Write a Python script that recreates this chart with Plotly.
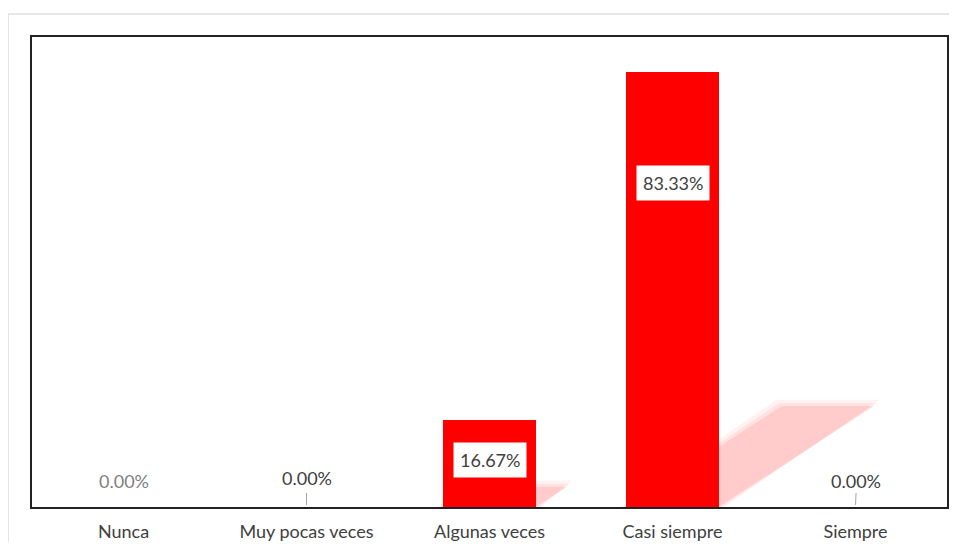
import plotly.graph_objects as go

categories = ["Nunca", "Muy pocas veces", "Algunas veces", "Casi siempre", "Siempre"]
values = [0.0, 0.0, 16.67, 83.33, 0.0]
value_labels = ["0.00%", "0.00%", "16.67%", "83.33%", "0.00%"]

# style / placement (pixels relative to the axis line)
label_shift_px = [26, 29, 47, 324, 26]
label_leader = [False, True, False, False, True]
label_colors = ["#7f7f7f", "#404040", "#404040", "#404040", "#404040"]

BAR_W = 0.505
Y_MAX = 90
PLOT_H = 471
ML, MT = 24, 29
FIG_W, FIG_H = 941, 534
PLOT_W = FIG_W - ML
FONT = "Lato"

fig = go.Figure()

# cast shadows (sheared copy of each bar, drawn below the bars), softened
shapes = []
for i, v in enumerate(values):
    if v <= 0:
        continue
    dx = 0.0102 * v
    h = 0.232 * v
    for grow, alpha in [(0.03, 0.05), (0.015, 0.06), (0.0, 0.10)]:
        gy = grow * 40
        x0, x1 = i - BAR_W / 2 - grow, i + BAR_W / 2 + grow
        path = (f"M {x0},0 L {x0+dx},{h+gy} L {x1+dx},{h+gy} L {x1},0 Z")
        shapes.append(dict(type="path", path=path, xref="x", yref="y", layer="below",
                           fillcolor=f"rgba(255,0,0,{alpha})", line=dict(width=0)))

fig.add_trace(go.Bar(x=list(range(len(categories))), y=values, width=BAR_W,
                     marker=dict(color="#ff0000", line=dict(width=0)),
                     hoverinfo="skip"))

annotations = []
for i, (v, t) in enumerate(zip(values, value_labels)):
    inside = v > 0
    ypix = label_shift_px[i]
    annotations.append(dict(
        x=i, y=0, xref="x", yref="y", text=t, showarrow=False,
        yshift=ypix, font=dict(family=FONT, size=18, color=label_colors[i]),
        bgcolor="white" if inside else "rgba(0,0,0,0)",
        borderpad=6 if inside else 0,
    ))
    if label_leader[i]:
        shapes.append(dict(type="line", xref="x", yref="y",
                           x0=i, x1=i + (0.003 if i == 4 else 0),
                           y0=0.4, y1=12 / PLOT_H * Y_MAX + 0.4,
                           line=dict(color="#a6a6a6", width=1)))

# outer light border of the chart area
shapes.append(dict(type="rect", xref="paper", yref="paper",
                   x0=(0 - ML) / PLOT_W, x1=1.3, y0=-0.3, y1=(PLOT_H + MT - 6) / PLOT_H,
                   line=dict(color="#e0e0e0", width=1.5), layer="below"))

fig.update_layout(
    width=FIG_W, height=FIG_H,
    margin=dict(l=ML, r=0, t=MT, b=FIG_H - MT - PLOT_H, pad=0),
    paper_bgcolor="white", plot_bgcolor="white",
    showlegend=False,
    shapes=shapes, annotations=annotations,
    bargap=0,
    font=dict(family=FONT, size=18, color="#404040"),
)
fig.update_xaxes(range=[-0.5, len(categories) - 0.5], tickmode="array",
                 tickvals=list(range(len(categories))), ticktext=categories,
                 showline=True, linecolor="#222222", linewidth=2, mirror=True,
                 ticks="", showgrid=False, zeroline=False, ticklabelstandoff=7,
                 tickfont=dict(family=FONT, size=18, color="#404040"))
fig.update_yaxes(range=[0, Y_MAX], showticklabels=False, showgrid=False,
                 zeroline=False, showline=True, linecolor="#222222",
                 linewidth=2, mirror=True, ticks="")

fig.write_html("out.html")
